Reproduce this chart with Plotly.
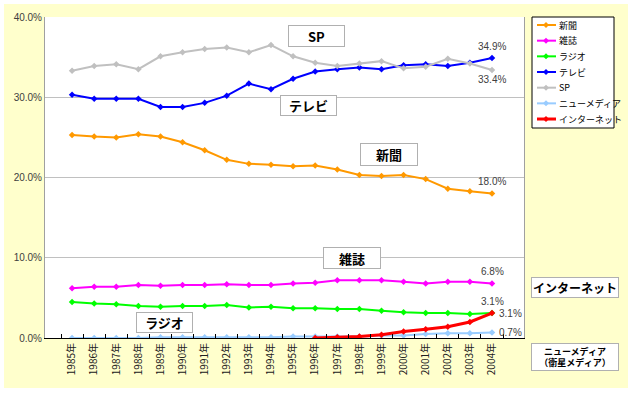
import plotly.graph_objects as go

years = ["1985年", "1986年", "1987年", "1988年", "1989年", "1990年", "1991年", "1992年", "1993年", "1994年",
         "1995年", "1996年", "1997年", "1998年", "1999年", "2000年", "2001年", "2002年", "2003年", "2004年"]

newspaper = [25.3, 25.1, 25.0, 25.4, 25.1, 24.4, 23.4, 22.2, 21.7, 21.6, 21.4, 21.5, 21.0, 20.3, 20.2, 20.3, 19.8, 18.6, 18.3, 18.0]
magazine = [6.2, 6.4, 6.4, 6.6, 6.5, 6.6, 6.6, 6.7, 6.6, 6.6, 6.8, 6.9, 7.2, 7.2, 7.2, 7.0, 6.8, 7.0, 7.0, 6.8]
radio = [4.5, 4.3, 4.2, 4.0, 3.9, 4.0, 4.0, 4.1, 3.8, 3.9, 3.7, 3.7, 3.6, 3.6, 3.4, 3.2, 3.1, 3.1, 3.0, 3.1]
tv = [30.3, 29.8, 29.8, 29.8, 28.8, 28.8, 29.3, 30.2, 31.7, 31.0, 32.3, 33.2, 33.5, 33.7, 33.5, 34.0, 34.1, 33.9, 34.3, 34.9]
sp = [33.3, 33.9, 34.1, 33.5, 35.1, 35.6, 36.0, 36.2, 35.6, 36.5, 35.1, 34.3, 33.9, 34.2, 34.5, 33.6, 33.8, 34.8, 34.2, 33.4]
newmedia = [0.0, 0.0, 0.0, 0.0, 0.1, 0.1, 0.1, 0.1, 0.1, 0.1, 0.2, 0.2, 0.2, 0.2, 0.3, 0.3, 0.5, 0.6, 0.6, 0.7]
internet = [None] * 11 + [0.0, 0.1, 0.2, 0.4, 0.8, 1.1, 1.4, 2.0, 3.1]

series_names = ["新聞", "雑誌", "ラジオ", "テレビ", "SP", "ニューメディア", "インターネット"]
series_values = [newspaper, magazine, radio, tv, sp, newmedia, internet]
series_colors = ["#FF9900", "#FF00FF", "#00FF00", "#0000FF", "#C0C0C0", "#99CCFF", "#FF0000"]
series_widths = [2, 2, 2, 2, 2, 2, 3]

fig = go.Figure()
for name, vals, color, w in zip(series_names, series_values, series_colors, series_widths):
    fig.add_trace(go.Scatter(
        x=years, y=vals, name=name, mode="lines+markers",
        line=dict(color=color, width=w),
        marker=dict(symbol="diamond", size=5, color=color),
        connectgaps=False, showlegend=False,
    ))

W, H = 632, 393
L, R, T, B = 45, 108, 17, 55
pw, ph = W - L - R, H - T - B


def px2paper(x, y):
    return (x - L) / pw, (H - B - y) / ph


shapes = []
x0, y0 = px2paper(4, 388)
x1, y1 = px2paper(628, 4)
shapes.append(dict(type="rect", xref="paper", yref="paper", x0=x0, y0=y0, x1=x1, y1=y1,
                   fillcolor="#FFFFCC", line=dict(width=0), layer="below"))
shapes.append(dict(type="rect", xref="paper", yref="paper", x0=0, y0=0, x1=1, y1=1,
                   fillcolor="white", line=dict(width=0), layer="below"))

annotations = []

# legend (drawn as layout shapes + text)
lx0, ly0 = px2paper(532, 128)
lx1, ly1 = px2paper(614, 17)
shapes.append(dict(type="rect", xref="paper", yref="paper", x0=lx0, y0=ly0, x1=lx1, y1=ly1,
                   fillcolor="white", line=dict(color="black", width=1)))
for i, (name, color, w) in enumerate(zip(series_names, series_colors, series_widths)):
    cy = 25 + i * 15.67
    ax0, ay = px2paper(537, cy)
    ax1, _ = px2paper(556, cy)
    shapes.append(dict(type="line", xref="paper", yref="paper", x0=ax0, y0=ay, x1=ax1, y1=ay,
                       line=dict(color=color, width=w)))
    pts = [px2paper(546, cy - 3), px2paper(549, cy), px2paper(546, cy + 3), px2paper(543, cy)]
    path = "M " + " L ".join(f"{px},{py}" for px, py in pts) + " Z"
    shapes.append(dict(type="path", xref="paper", yref="paper", path=path,
                       fillcolor=color, line=dict(color=color, width=0)))
    tx, ty = px2paper(557, cy)
    annotations.append(dict(text=name, x=tx, y=ty, xref="paper", yref="paper", showarrow=False,
                            xanchor="left", yanchor="middle",
                            font=dict(family="Noto Sans CJK JP", size=9, color="black")))


def box(text, cx, cy, w, h, size=13):
    x, y = px2paper(cx, cy)
    annotations.append(dict(
        text="<b>" + text + "</b>", x=x, y=y, xref="paper", yref="paper",
        xanchor="center", yanchor="middle", showarrow=False,
        font=dict(family="Noto Sans CJK JP", size=size, color="black"),
        bgcolor="white", bordercolor="#B0B0B0", borderwidth=1, borderpad=0,
        width=w, height=h,
    ))


box("SP", 316.5, 36, 55, 20)
box("テレビ", 308.5, 105.5, 55, 19)
box("新聞", 389, 154.5, 56, 21)
box("雑誌", 352, 258, 56, 20)
box("ラジオ", 164.5, 322.5, 55, 19)
box("インターネット", 575, 287.5, 86, 19, size=12)
box("ニューメディア<br>（衛星メディア）", 575, 357, 86, 26, size=9)

lab_font = dict(family="Liberation Sans", size=10, color="#404040")


def vlabel(text, val, yshift, xanchor="center", xshift=0):
    annotations.append(dict(
        text=text, x="2004年", y=val, xref="x", yref="y", showarrow=False,
        xanchor=xanchor, yanchor="middle", xshift=xshift, yshift=yshift, font=lab_font,
    ))


vlabel("34.9%", tv[-1], 11)
vlabel("33.4%", sp[-1], -10)
vlabel("18.0%", newspaper[-1], 12)
vlabel("6.8%", magazine[-1], 12)
vlabel("3.1%", radio[-1], 12)
vlabel("3.1%", internet[-1], 0, xanchor="left", xshift=5)
vlabel("0.7%", newmedia[-1], 0, xanchor="left", xshift=5)

fig.update_layout(
    width=W, height=H,
    margin=dict(l=L, r=R, t=T, b=B, autoexpand=False),
    paper_bgcolor="white", plot_bgcolor="white",
    shapes=shapes, annotations=annotations,
    showlegend=False, hovermode=False,
    xaxis=dict(type="category", tickangle=-90, showline=True, linecolor="black", linewidth=1,
               ticks="inside", ticklen=4, tickcolor="black", tickson="boundaries",
               showgrid=False, automargin=False,
               tickfont=dict(family="Noto Sans CJK JP", size=10, color="#202020")),
    yaxis=dict(range=[0, 40], dtick=10, tickformat=".1f", ticksuffix="%",
               showline=True, linecolor="#A0A0A0", mirror=True, showgrid=True, gridcolor="#C0C0C0",
               zeroline=False, ticks="", automargin=False,
               tickfont=dict(family="Liberation Sans", size=10, color="#404040")),
)

fig.write_html("out.html", config={"displayModeBar": False},
               post_script="document.body.style.margin='0px';document.body.style.overflow='hidden';")
